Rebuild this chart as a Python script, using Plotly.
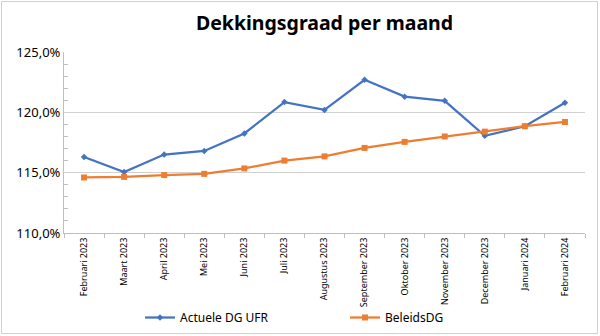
import plotly.graph_objects as go

# Months on the category axis
maanden = ["Februari 2023", "Maart 2023", "April 2023", "Mei 2023", "Juni 2023",
           "Juli 2023", "Augustus 2023", "September 2023", "Oktober 2023",
           "November 2023", "December 2023", "Januari 2024", "Februari 2024"]

# Coverage ratios in percent
actuele_dg_ufr = [116.3, 115.05, 116.5, 116.8, 118.25, 120.85, 120.2, 122.7,
                  121.3, 120.95, 118.05, 118.85, 120.8]
beleids_dg = [114.6, 114.65, 114.8, 114.9, 115.35, 116.0, 116.35, 117.05,
              117.55, 118.0, 118.4, 118.85, 119.2]

W, H = 600, 336
ML, MR, MT, MB = 64, 15, 52, 103
PW, PH = W - ML - MR, H - MT - MB

fig = go.Figure()
fig.add_trace(go.Scatter(
    x=maanden, y=actuele_dg_ufr, name="Actuele DG UFR", mode="lines+markers",
    line=dict(color="#4472C4", width=2.25),
    marker=dict(symbol="diamond", size=5, color="#4472C4"),
))
fig.add_trace(go.Scatter(
    x=maanden, y=beleids_dg, name="BeleidsDG", mode="lines+markers",
    line=dict(color="#ED7D31", width=2.25),
    marker=dict(symbol="square", size=6, color="#ED7D31"),
))

# Outer chart frame
fig.add_shape(type="rect", xref="paper", yref="paper", layer="below",
              x0=(-ML + 1.5) / PW, x1=(W - ML - 2.5) / PW,
              y0=(-MB + 2.5) / PH, y1=(PH + MT - 1.5) / PH,
              line=dict(color="#D0D0D0", width=1))

fig.update_layout(
    width=W, height=H,
    margin=dict(l=ML, r=MR, t=MT, b=MB, autoexpand=False),
    paper_bgcolor="white", plot_bgcolor="white",
    separators=",.",
    font=dict(family="Noto Sans", color="#404040"),
    title=dict(text="<b>Dekkingsgraad per maand</b>", x=0.5, xref="paper",
               xanchor="center", y=1 - 23 / H, yanchor="middle",
               font=dict(size=19.5, color="#000000", family="Noto Sans")),
    showlegend=True,
    legend=dict(orientation="h", x=(140 - ML) / PW, xanchor="left",
                y=-(303 - MT - PH) / PH, yanchor="top",
                font=dict(size=12, color="#000000"),
                itemwidth=30, entrywidth=160, bgcolor="rgba(0,0,0,0)"),
)

fig.update_xaxes(
    type="category", range=[-0.5, len(maanden) - 0.5], automargin=False,
    tickangle=-90, tickfont=dict(size=9, color="#000000"),
    showgrid=False, showline=True, linecolor="#BFBFBF", linewidth=1,
    tickson="boundaries", ticks="outside", ticklen=4, tickcolor="#BFBFBF",
    zeroline=False,
)
fig.update_yaxes(
    range=[110, 125], dtick=5, tickformat=".1f", ticksuffix="%", automargin=False,
    tickfont=dict(size=13, color="#000000"),
    showgrid=True, gridcolor="#D0D0D0", gridwidth=1,
    showline=True, linecolor="#BFBFBF", linewidth=1,
    ticks="", zeroline=False,
    minor=dict(dtick=1, ticks="inside", ticklen=4, tickcolor="#BFBFBF",
               showgrid=False),
)

fig.write_html("out.html")
